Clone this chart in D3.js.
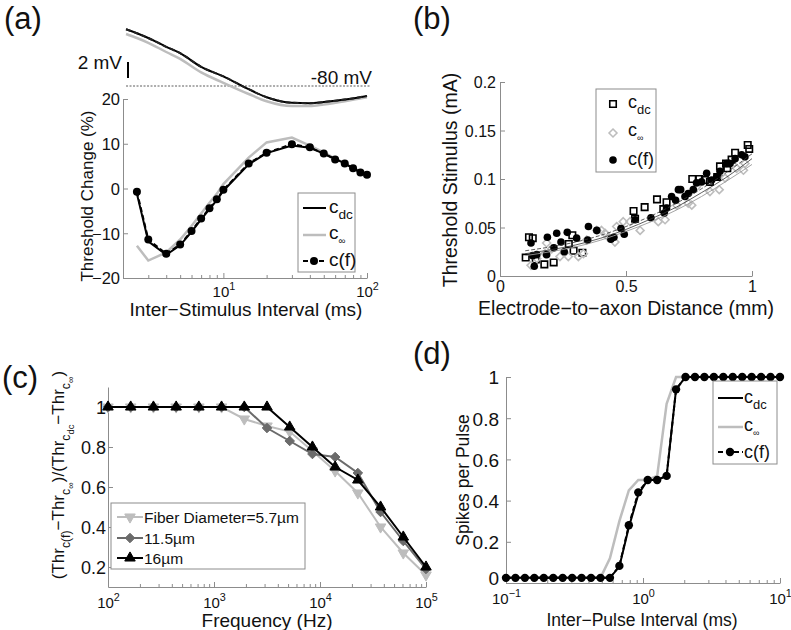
<!DOCTYPE html>
<html><head><meta charset="utf-8">
<script src="https://cdn.jsdelivr.net/npm/d3@7"></script>
<style>
body{margin:0;background:#fff;}
svg{display:block;font-family:"Liberation Sans",Arial,Helvetica,sans-serif;}
</style></head><body>
<svg id="chart" width="791" height="630"></svg>
<script>
// ================= DATA =================
// (a) membrane potential traces (mV) vs inter-stimulus interval (ms)
const isiV   = [2.1, 2.5, 3, 4, 5, 7, 10, 15, 20, 30, 40, 50, 70, 100];
const vmCdc  = [-72.9, -73.4, -74.0, -75.1, -75.9, -77.6, -78.8, -80.4, -81.4, -82.1, -82.15, -82.0, -81.7, -81.25];
const vmCinf = [-73.5, -74.0, -74.6, -75.75, -76.6, -78.3, -79.6, -81.0, -81.9, -82.5, -82.5, -82.3, -81.9, -81.4];
// (a) threshold change (%)
const isi     = [2.5, 3, 4, 5, 6, 7, 8, 9, 10, 15, 20, 30, 40, 50, 60, 70, 80, 90, 100];
const thrCdc  = [-1.2, -11.8, -14.8, -12.7, -9.7, -6.9, -4.6, -2.6, -0.5, 5.4, 7.9, 9.6, 9.1, 7.8, 6.6, 5.6, 4.5, 3.6, 3.1];
const thrCinf = [-12.8, -16.1, -14.3, -11.4, -8.4, -5.6, -3.2, -1.2, 1.0, 6.9, 10.3, 11.4, 9.6, 8.1, 6.7, 5.6, 4.5, 3.6, 3.1];
const thrCf   = [-0.7, -11.4, -14.6, -12.5, -9.5, -6.7, -4.4, -2.4, -0.3, 5.6, 8.0, 9.9, 9.2, 7.8, 6.5, 5.6, 4.5, 3.6, 3.1];
const isiTicks = [2, 3, 4, 5, 6, 7, 8, 9, 10, 20, 30, 40, 50, 60, 70, 80, 90, 100];
const isiMajor = [10, 100];
const thrTicks = [-20, -10, 0, 10, 20];

// (b) threshold stimulus (mA) vs electrode-to-axon distance (mm)
const distDc = [0.102,0.115,0.130,0.142,0.176,0.213,0.273,0.287,0.292,0.327,0.530,0.536,0.574,0.623,0.648,0.661,0.763,0.791,0.813,0.833,0.862,0.873,0.897,0.902,0.919,0.933,0.983,0.989];
const stimDc = [0.019,0.040,0.039,0.017,0.012,0.014,0.033,0.042,0.026,0.024,0.067,0.059,0.071,0.079,0.069,0.076,0.100,0.100,0.099,0.097,0.102,0.113,0.116,0.111,0.120,0.127,0.135,0.131];
const distInf = [0.123,0.146,0.179,0.185,0.205,0.238,0.271,0.311,0.331,0.344,0.384,0.403,0.417,0.430,0.456,0.463,0.489,0.516,0.556,0.628,0.655,0.701,0.747,0.761,0.780,0.833,0.870,0.893,0.939,0.966,0.972];
const stimInf = [0.011,0.018,0.023,0.034,0.028,0.020,0.020,0.020,0.023,0.037,0.047,0.047,0.044,0.040,0.035,0.051,0.056,0.056,0.047,0.056,0.058,0.073,0.075,0.073,0.092,0.087,0.089,0.101,0.111,0.109,0.116];
const distCf = [0.123,0.130,0.136,0.146,0.185,0.188,0.214,0.225,0.242,0.255,0.267,0.304,0.348,0.351,0.384,0.440,0.452,0.480,0.493,0.536,0.599,0.652,0.661,0.681,0.697,0.708,0.717,0.734,0.747,0.767,0.780,0.800,0.820,0.840,0.860,0.873,0.899,0.913,0.933,0.959,0.972];
const stimCf = [0.034,0.021,0.010,0.022,0.022,0.040,0.029,0.044,0.035,0.025,0.045,0.039,0.037,0.051,0.047,0.038,0.040,0.049,0.043,0.058,0.060,0.065,0.070,0.082,0.078,0.089,0.089,0.082,0.085,0.089,0.096,0.097,0.106,0.099,0.102,0.108,0.116,0.116,0.121,0.125,0.123];
const fitDist = [0.1, 0.2, 0.3, 0.4, 0.5, 0.6, 0.7, 0.8, 0.9, 1.0];
const fitDc   = [0.026, 0.030, 0.035, 0.042, 0.051, 0.062, 0.075, 0.090, 0.107, 0.126];
const fitInf  = [0.021, 0.025, 0.030, 0.037, 0.046, 0.056, 0.068, 0.082, 0.098, 0.115];
const fitCf   = [0.023, 0.027, 0.032, 0.039, 0.048, 0.059, 0.071, 0.086, 0.102, 0.121];
const distTicks = [0, 0.5, 1];
const stimTicks = [0, 0.05, 0.1, 0.15, 0.2];

// (c) normalized threshold vs frequency (Hz)
const freq   = [100, 163.8, 268.3, 439.4, 719.7, 1178.8, 1930.7, 3162.3, 5179.5, 8483.4, 13895, 22758, 37276, 61054, 100000];
const ratio57  = [1, 1, 1, 1, 1, 1, 0.94, 0.905, 0.877, 0.78, 0.68, 0.57, 0.40, 0.27, 0.16];
const ratio115 = [1, 1, 1, 1, 1, 1, 1, 0.895, 0.83, 0.765, 0.75, 0.67, 0.475, 0.33, 0.19];
const ratio16  = [1, 1, 1, 1, 1, 1, 1, 1, 0.90, 0.80, 0.70, 0.635, 0.50, 0.35, 0.20];
const freqTicks = [100,200,300,400,500,600,700,800,900,1000,2000,3000,4000,5000,6000,7000,8000,9000,10000,20000,30000,40000,50000,60000,70000,80000,90000,100000];
const freqMajor = [100, 1000, 10000, 100000];
const ratioTicks = [0.2, 0.4, 0.6, 0.8, 1];
const fiberLabels = ["Fiber Diameter=5.7\u00b5m", "11.5\u00b5m", "16\u00b5m"];

// (d) spikes per pulse vs inter-pulse interval (ms)
const ipi = [0.1,0.1172,0.1374,0.1610,0.1887,0.2212,0.2593,0.3039,0.3562,0.4175,0.4894,0.5736,0.6723,0.7880,0.9237,1.0826,1.2690,1.4874,1.7433,2.0434,2.3950,2.8072,3.2903,3.8566,4.5204,5.2983,6.2102,7.2790,8.5317,10];
const spkCdc  = [0.025,0.025,0.025,0.025,0.025,0.025,0.025,0.025,0.025,0.025,0.025,0.025,0.08,0.27,0.43,0.50,0.50,0.52,0.94,1,1,1,1,1,1,1,1,1,1,1];
const spkCinf = [0.025,0.025,0.025,0.025,0.025,0.025,0.025,0.025,0.025,0.025,0.025,0.12,0.30,0.45,0.50,0.50,0.52,0.87,1,1,1,1,1,1,1,1,1,1,1,1];
const spkCf   = [0.025,0.025,0.025,0.025,0.025,0.025,0.025,0.025,0.025,0.025,0.025,0.025,0.083,0.28,0.44,0.50,0.50,0.52,0.94,1,1,1,1,1,1,1,1,1,1,1];
const ipiTicks = [0.1,0.2,0.3,0.4,0.5,0.6,0.7,0.8,0.9,1,2,3,4,5,6,7,8,9,10];
const ipiMajor = [0.1, 1, 10];
const spkTicks = [0, 0.2, 0.4, 0.6, 0.8, 1];

// ================= DRAWING =================
const svg = d3.select('#chart');
svg.append('rect').attr('width', 791).attr('height', 630).attr('fill', '#fff');
const BLACK = '#000', LGRAY = '#bdbdbd', DGRAY = '#6b6b6b', AXC = '#8c8c8c', TXT = '#111';
const zip = (a, b) => a.map((v, i) => [v, b[i]]);

function rich(sel, parts, base) {
  const L = {0: [1, 0], 1: [0.72, 0.33], 2: [0.55, 0.6], i: [0.5, 0.28]};
  let cur = 0;
  parts.forEach(([s, l]) => {
    const dy = (L[l][1] - L[cur][1]) * base;
    sel.append('tspan').attr('dy', dy.toFixed(2)).attr('font-size', (L[l][0] * base).toFixed(2)).text(s);
    cur = l;
  });
  return sel;
}
function label(x, y, parts, size, anchor, rot) {
  const t = svg.append('text').attr('fill', TXT).attr('font-size', size).attr('text-anchor', anchor || 'start')
    .attr('transform', `translate(${x},${y})` + (rot ? ` rotate(${rot})` : ''));
  if (typeof parts === 'string') t.text(parts); else rich(t, parts, size);
  return t;
}
function styleAxis(a, fs) {
  a.attr('font-family', '"Liberation Sans",Arial,sans-serif').attr('font-size', fs);
  a.select('.domain').attr('stroke', AXC).attr('stroke-width', 1);
  a.selectAll('.tick line').attr('stroke', AXC);
  a.selectAll('.tick text').attr('fill', TXT);
}
function leftAxis(scale, x, ticks, fmt, fs, pad) {
  const a = svg.append('g').attr('transform', `translate(${x},0)`)
    .call(d3.axisLeft(scale).tickValues(ticks).tickFormat(fmt).tickSizeInner(-5).tickSizeOuter(0).tickPadding(pad));
  styleAxis(a, fs);
  a.selectAll('.tick text').attr('dy', '0.36em');
  return a;
}
function linBottom(scale, y, ticks, fmt, fs, pad) {
  const a = svg.append('g').attr('transform', `translate(0,${y})`)
    .call(d3.axisBottom(scale).tickValues(ticks).tickFormat(fmt).tickSizeInner(-5).tickSizeOuter(0).tickPadding(pad));
  styleAxis(a, fs);
  return a;
}
function logBottom(scale, y, ticks, majors, fs, ly) {
  const a = svg.append('g').attr('transform', `translate(0,${y})`)
    .call(d3.axisBottom(scale).tickValues(ticks).tickFormat('').tickSizeInner(-3).tickSizeOuter(0));
  styleAxis(a, fs);
  a.selectAll('.tick').filter(d => majors.includes(d)).each(function (d) {
    const t = d3.select(this);
    t.select('line').attr('y2', -5);
    const e = Math.round(Math.log10(d));
    const tx = t.append('text').attr('y', ly).attr('text-anchor', 'middle').attr('fill', TXT).attr('font-size', fs);
    tx.append('tspan').text('10');
    tx.append('tspan').attr('dy', -0.45 * fs).attr('font-size', fs * 0.72).text(e < 0 ? '\u2212' + (-e) : String(e));
  });
  return a;
}
function legendBox(x0, y0, x1, y1) {
  svg.append('rect').attr('x', x0).attr('y', y0).attr('width', x1 - x0).attr('height', y1 - y0)
    .attr('fill', '#fff').attr('stroke', AXC).attr('stroke-width', 1);
}
const minus = d => (d < 0 ? '\u2212' + Math.abs(d) : String(d));

// ---------- Panel (a) ----------
const xA = d3.scaleLog().domain([2, 100]).range([123, 367]);
const yA = d3.scaleLinear().domain([-20, 20]).range([278, 99]);
const vA = d3.scaleLinear().domain([-80, -78]).range([86, 70]);

svg.append('line').attr('x1', xA(2.1)).attr('x2', xA(105)).attr('y1', vA(-80)).attr('y2', vA(-80))
  .attr('stroke', '#333').attr('stroke-width', 0.8).attr('stroke-dasharray', '2,1.5');
const vLine = d3.line().x(d => xA(d[0])).y(d => vA(d[1])).curve(d3.curveMonotoneX);
svg.append('path').attr('d', vLine(zip(isiV, vmCinf))).attr('fill', 'none').attr('stroke', LGRAY).attr('stroke-width', 2.5);
svg.append('path').attr('d', vLine(zip(isiV, vmCdc))).attr('fill', 'none').attr('stroke', BLACK).attr('stroke-width', 2);
svg.append('path').attr('d', vLine(zip(isiV, vmCdc))).attr('fill', 'none').attr('stroke', '#222').attr('stroke-width', 2).attr('stroke-dasharray', '5,3');
// 2 mV scale bar
svg.append('line').attr('x1', 128).attr('x2', 128).attr('y1', vA(-77)).attr('y2', vA(-79)).attr('stroke', BLACK).attr('stroke-width', 2);
label(122, 69, '2 mV', 19, 'end');
label(372, 84, '-80 mV', 19, 'end');

leftAxis(yA, 123, thrTicks, minus, 16.5, 3);
logBottom(xA, 278, isiTicks, isiMajor, 15, 19);

const tA = d3.line().x(d => xA(d[0])).y(d => yA(d[1]));
svg.append('path').attr('d', tA(zip(isi, thrCinf))).attr('fill', 'none').attr('stroke', LGRAY).attr('stroke-width', 2.5);
svg.append('path').attr('d', tA(zip(isi, thrCdc))).attr('fill', 'none').attr('stroke', BLACK).attr('stroke-width', 2);
svg.append('path').attr('d', tA(zip(isi, thrCf))).attr('fill', 'none').attr('stroke', BLACK).attr('stroke-width', 2).attr('stroke-dasharray', '5,3');
svg.append('g').selectAll('circle').data(zip(isi, thrCf)).join('circle')
  .attr('cx', d => xA(d[0])).attr('cy', d => yA(d[1])).attr('r', 4).attr('fill', BLACK);

legendBox(298, 193, 355, 272);
svg.append('line').attr('x1', 303).attr('x2', 326).attr('y1', 208).attr('y2', 208).attr('stroke', BLACK).attr('stroke-width', 2);
svg.append('line').attr('x1', 303).attr('x2', 326).attr('y1', 235).attr('y2', 235).attr('stroke', LGRAY).attr('stroke-width', 2.5);
svg.append('line').attr('x1', 303).attr('x2', 326).attr('y1', 261).attr('y2', 261).attr('stroke', BLACK).attr('stroke-width', 2).attr('stroke-dasharray', '5,3');
svg.append('circle').attr('cx', 314).attr('cy', 261).attr('r', 4).attr('fill', BLACK);
label(329, 213, [['c', 0], ['dc', 1]], 19);
label(329, 239, [['c', 0], ['\u221e', 'i']], 19);
label(329, 266, 'c(f)', 19);

label(93, 196, 'Threshold Change (%)', 17, 'middle', -90);
label(246, 316, 'Inter\u2212Stimulus Interval (ms)', 19, 'middle');
label(4, 29, '(a)', 31);

// ---------- Panel (b) ----------
const xB = d3.scaleLinear().domain([0, 1]).range([500, 752]);
const yB = d3.scaleLinear().domain([0, 0.2]).range([276, 82]);
leftAxis(yB, 500, stimTicks, d => String(d), 16, 4);
linBottom(xB, 276, distTicks, d => String(d), 16, 5);

const sqSym = d3.symbol().type(d3.symbolSquare).size(42);
const dmType = d3.symbolDiamond2 || d3.symbolDiamond;
const dmSym = d3.symbol().type(dmType).size(40);
svg.append('g').selectAll('path').data(zip(distDc, stimDc)).join('path')
  .attr('d', sqSym).attr('transform', d => `translate(${xB(d[0])},${yB(d[1])})`)
  .attr('fill', 'none').attr('stroke', BLACK).attr('stroke-width', 1.6);
svg.append('g').selectAll('path').data(zip(distInf, stimInf)).join('path')
  .attr('d', dmSym).attr('transform', d => `translate(${xB(d[0])},${yB(d[1])})`)
  .attr('fill', 'none').attr('stroke', LGRAY).attr('stroke-width', 1.6);
svg.append('g').selectAll('circle').data(zip(distCf, stimCf)).join('circle')
  .attr('cx', d => xB(d[0])).attr('cy', d => yB(d[1])).attr('r', 3.8).attr('fill', BLACK);
const fB = d3.line().x(d => xB(d[0])).y(d => yB(d[1])).curve(d3.curveMonotoneX);
svg.append('path').attr('d', fB(zip(fitDist, fitInf))).attr('fill', 'none').attr('stroke', '#999').attr('stroke-width', 0.9);
svg.append('path').attr('d', fB(zip(fitDist, fitDc))).attr('fill', 'none').attr('stroke', '#333').attr('stroke-width', 0.8).attr('stroke-dasharray', '4,2');
svg.append('path').attr('d', fB(zip(fitDist, fitCf))).attr('fill', 'none').attr('stroke', '#333').attr('stroke-width', 0.8);

legendBox(596, 89, 656, 172);
svg.append('path').attr('d', sqSym()).attr('transform', 'translate(613,104)').attr('fill', 'none').attr('stroke', BLACK).attr('stroke-width', 1.6);
svg.append('path').attr('d', dmSym()).attr('transform', 'translate(613,133)').attr('fill', 'none').attr('stroke', LGRAY).attr('stroke-width', 1.6);
svg.append('circle').attr('cx', 613).attr('cy', 160).attr('r', 3.8).attr('fill', BLACK);
label(628, 108, [['c', 0], ['dc', 1]], 18);
label(628, 136, [['c', 0], ['\u221e', 'i']], 18);
label(628, 165, 'c(f)', 18);

label(457, 180, 'Threshold Stimulus (mA)', 19.5, 'middle', -90);
label(626, 315, 'Electrode\u2212to\u2212axon Distance (mm)', 19.5, 'middle');
label(413, 29, '(b)', 31);

// ---------- Panel (c) ----------
const xC = d3.scaleLog().domain([100, 100000]).range([108, 426]);
const yC = d3.scaleLinear().domain([0.1, 1.1]).range([587, 387]);
leftAxis(yC, 108, ratioTicks, d => String(d), 18, 2);
logBottom(xC, 587, freqTicks, freqMajor, 15, 21);

const lC = d3.line().x(d => xC(d[0])).y(d => yC(d[1]));
const triUp = d3.symbol().type(d3.symbolTriangle).size(48);
const dmC = d3.symbol().type(dmType).size(58);
const seriesC = [
  {v: ratio57, color: LGRAY, sym: triUp, rot: 180},
  {v: ratio115, color: DGRAY, sym: dmC, rot: 0},
  {v: ratio16, color: BLACK, sym: triUp, rot: 0}
];
seriesC.forEach(s => {
  svg.append('path').attr('d', lC(zip(freq, s.v))).attr('fill', 'none').attr('stroke', s.color).attr('stroke-width', 2);
  svg.append('g').selectAll('path').data(zip(freq, s.v)).join('path')
    .attr('d', s.sym).attr('transform', d => `translate(${xC(d[0])},${yC(d[1])}) rotate(${s.rot})`)
    .attr('fill', s.color).attr('stroke', s.color).attr('stroke-width', 1);
});
legendBox(111, 503, 305, 569);
[517, 538, 558].forEach((y, i) => {
  const s = seriesC[i];
  svg.append('line').attr('x1', 117).attr('x2', 143).attr('y1', y).attr('y2', y).attr('stroke', s.color).attr('stroke-width', 2);
  svg.append('path').attr('d', s.sym()).attr('transform', `translate(130,${y}) rotate(${s.rot})`).attr('fill', s.color).attr('stroke', s.color);
  label(144, y + 5.5, fiberLabels[i], 15.5);
});
label(64, 475, [['(Thr', 0], ['c(f)', 1], ['\u2212Thr', 0], ['c', 1], ['\u221e', 2], [')/(Thr', 0], ['c', 1], ['dc', 2], ['\u2212Thr', 0], ['c', 1], ['\u221e', 2], [')', 0]], 17, 'middle', -90);
label(267, 627, 'Frequency (Hz)', 19, 'middle');
label(2, 388, '(c)', 31);

// ---------- Panel (d) ----------
const xD = d3.scaleLog().domain([0.1, 10]).range([506, 780]);
const yD = d3.scaleLinear().domain([0, 1]).range([583, 377]);
const axD = leftAxis(yD, 506, spkTicks, d => String(d), 19, 7);
axD.selectAll('.tick text').filter(d => d === 0).attr('dy', '0.1em');
logBottom(xD, 583, ipiTicks, ipiMajor, 15, 21);

const lD = d3.line().x(d => xD(d[0])).y(d => yD(d[1]));
svg.append('path').attr('d', lD(zip(ipi, spkCinf))).attr('fill', 'none').attr('stroke', LGRAY).attr('stroke-width', 2.5);
svg.append('path').attr('d', lD(zip(ipi, spkCdc))).attr('fill', 'none').attr('stroke', BLACK).attr('stroke-width', 2);
svg.append('path').attr('d', lD(zip(ipi, spkCf))).attr('fill', 'none').attr('stroke', BLACK).attr('stroke-width', 2).attr('stroke-dasharray', '5,3');
svg.append('g').selectAll('circle').data(zip(ipi, spkCf)).join('circle')
  .attr('cx', d => xD(d[0])).attr('cy', d => yD(d[1])).attr('r', 4.2).attr('fill', BLACK);

legendBox(713, 381, 777, 464);
svg.append('line').attr('x1', 718).attr('x2', 743).attr('y1', 398).attr('y2', 398).attr('stroke', BLACK).attr('stroke-width', 2);
svg.append('line').attr('x1', 718).attr('x2', 743).attr('y1', 427).attr('y2', 427).attr('stroke', LGRAY).attr('stroke-width', 2.5);
svg.append('line').attr('x1', 718).attr('x2', 743).attr('y1', 452).attr('y2', 452).attr('stroke', BLACK).attr('stroke-width', 2).attr('stroke-dasharray', '5,3');
svg.append('circle').attr('cx', 730).attr('cy', 452).attr('r', 4.2).attr('fill', BLACK);
label(744, 403, [['c', 0], ['dc', 1]], 18);
label(744, 431, [['c', 0], ['\u221e', 'i']], 18);
label(744, 458, 'c(f)', 18);

label(469, 480, 'Spikes per Pulse', 17.5, 'middle', -90);
label(642, 626, 'Inter\u2212Pulse Interval (ms)', 17.5, 'middle');
label(413, 364, '(d)', 31);
</script>
</body></html>
